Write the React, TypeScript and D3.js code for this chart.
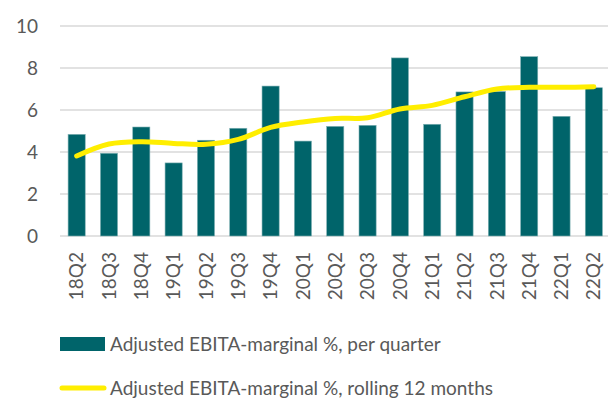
import React, { useEffect, useRef } from "react";
import * as d3 from "d3";

const quarters = ["18Q2", "18Q3", "18Q4", "19Q1", "19Q2", "19Q3", "19Q4", "20Q1", "20Q2", "20Q3", "20Q4", "21Q1", "21Q2", "21Q3", "21Q4", "22Q1", "22Q2"];
const perQuarter = [4.84, 3.94, 5.19, 3.48, 4.56, 5.13, 7.14, 4.52, 5.22, 5.27, 8.48, 5.32, 6.86, 6.88, 8.54, 5.7, 7.06];
const rolling12 = [3.81, 4.38, 4.49, 4.41, 4.37, 4.6, 5.17, 5.43, 5.6, 5.63, 6.05, 6.22, 6.63, 7.0, 7.08, 7.08, 7.11];
const yTicks = [0, 2, 4, 6, 8, 10];
const legendLabels = ["Adjusted EBITA-marginal %, per quarter", "Adjusted EBITA-marginal %, rolling 12 months"];

const barColor = "#00646a";
const lineColor = "#ffee00";
const textColor = "#595959";
const font = "Lato, 'Open Sans', sans-serif";

const App: React.FC = () => {
  const ref = useRef<SVGSVGElement>(null);

  useEffect(() => {
    if (!ref.current) return;
    const svg = d3.select(ref.current);
    svg.selectAll("*").remove();

    const width = 608;
    const height = 401;
    svg.attr("width", width).attr("height", height);

    const x = d3.scaleBand().domain(quarters).range([60.5, 610]).paddingInner(0.47).paddingOuter(0.235);
    const y = d3.scaleLinear().domain([0, 10]).range([236, 26]);

    // grid
    svg.append("g")
      .selectAll("line")
      .data(yTicks)
      .enter().append("line")
      .attr("x1", 60).attr("x2", 608)
      .attr("y1", (d) => y(d)).attr("y2", (d) => y(d))
      .attr("stroke", "#d9d9d9").attr("stroke-width", 1.3);

    svg.append("g")
      .selectAll("text")
      .data(yTicks)
      .enter().append("text")
      .attr("x", 38).attr("y", (d) => y(d))
      .attr("dy", "0.35em")
      .attr("text-anchor", "end")
      .attr("fill", textColor)
      .attr("font-family", font)
      .attr("font-size", 19)
      .text((d) => d);

    // bars
    svg.append("g")
      .selectAll("rect")
      .data(perQuarter)
      .enter().append("rect")
      .attr("x", (d, i) => x(quarters[i]) ?? 0)
      .attr("y", (d) => y(d))
      .attr("width", x.bandwidth())
      .attr("height", (d) => y(0) - y(d))
      .attr("fill", barColor)
      .attr("stroke", "#7fb0b3").attr("stroke-width", 0.6);

    // rolling line
    const line = d3.line<number>()
      .x((d, i) => (x(quarters[i]) ?? 0) + x.bandwidth() / 2)
      .y((d) => y(d))
      .curve(d3.curveCatmullRom.alpha(0.5));
    svg.append("path")
      .datum(rolling12)
      .attr("d", line)
      .attr("fill", "none")
      .attr("stroke", lineColor)
      .attr("stroke-width", 5)
      .attr("stroke-linecap", "round");

    // x labels
    svg.append("g")
      .selectAll("text")
      .data(quarters)
      .enter().append("text")
      .attr("transform", (d) => `translate(${(x(d) ?? 0) + x.bandwidth() / 2},252) rotate(-90)`)
      .attr("dy", "0.35em")
      .attr("text-anchor", "end")
      .attr("fill", textColor)
      .attr("font-family", font)
      .attr("font-size", 19)
      .text((d) => d);

    // legend
    const lg = svg.append("g");
    lg.append("rect").attr("x", 60).attr("y", 337).attr("width", 45).attr("height", 14).attr("fill", barColor);
    lg.append("line").attr("x1", 62).attr("x2", 104).attr("y1", 388).attr("y2", 388)
      .attr("stroke", lineColor).attr("stroke-width", 5).attr("stroke-linecap", "round");
    lg.selectAll("text")
      .data(legendLabels)
      .enter().append("text")
      .attr("x", 110)
      .attr("y", (d, i) => (i === 0 ? 344 : 388))
      .attr("dy", "0.35em")
      .attr("fill", textColor)
      .attr("font-family", font)
      .attr("font-size", 19)
      .text((d) => d);
  }, []);

  return <svg ref={ref} style={{ position: "absolute", left: 0, top: 0 }}></svg>;
};

export default App;
